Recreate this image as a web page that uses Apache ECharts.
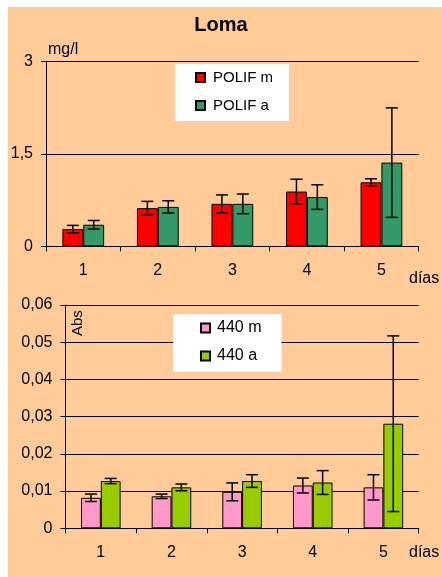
<!DOCTYPE html>
<html>
<head>
<meta charset="utf-8">
<script src="https://cdn.jsdelivr.net/npm/echarts@6/dist/echarts.min.js"></script>
<style>
html,body{margin:0;padding:0;background:#fff;}
#c{width:442px;height:577px;}
</style>
</head>
<body>
<div id="c"></div>
<script>
// ---- data ----
var categories = ['1', '2', '3', '4', '5'];
var polifM = [0.28, 0.62, 0.69, 0.89, 1.04];
var polifMErr = [0.06, 0.11, 0.145, 0.20, 0.057];
var polifA = [0.35, 0.64, 0.69, 0.80, 1.36];
var polifAErr = [0.07, 0.10, 0.16, 0.20, 0.89];
var abs440M = [0.0082, 0.0086, 0.0098, 0.0115, 0.0110];
var abs440MErr = [0.0010, 0.0006, 0.0024, 0.0020, 0.0034];
var abs440A = [0.0127, 0.0110, 0.0127, 0.0123, 0.0281];
var abs440AErr = [0.0007, 0.0009, 0.0017, 0.0032, 0.0236];
var topTicks = {min: 0, max: 3, interval: 1.5};
var bottomTicks = {min: 0, max: 0.06, interval: 0.01};

var FONT = '"Liberation Sans", Arial, sans-serif';
var GAP = 0.44;

function errData(vals, errs) {
  return vals.map(function (v, i) { return [i, v - errs[i], v + errs[i]]; });
}
function errRender(sign) {
  return function (params, api) {
    var x = api.value(0);
    var lo = api.coord([x, api.value(1)]);
    var hi = api.coord([x, api.value(2)]);
    var bw = api.size([1, 0])[0];
    var dx = sign * bw * (1 - GAP) / 4;
    var cx = lo[0] + dx;
    var h = 6;
    var st = {stroke: '#000', lineWidth: 1.5};
    return {
      type: 'group',
      children: [
        {type: 'line', shape: {x1: cx, y1: lo[1], x2: cx, y2: hi[1]}, style: st},
        {type: 'line', shape: {x1: cx - h, y1: lo[1], x2: cx + h, y2: lo[1]}, style: st},
        {type: 'line', shape: {x1: cx - h, y1: hi[1], x2: cx + h, y2: hi[1]}, style: st}
      ]
    };
  };
}
function barSeries(name, data, color, idx) {
  return {
    type: 'bar', name: name, data: data, xAxisIndex: idx, yAxisIndex: idx,
    barGap: '0%', barCategoryGap: (GAP * 100) + '%',
    itemStyle: {color: color, borderColor: '#000', borderWidth: 1},
    emphasis: {disabled: true}, z: 3
  };
}
function errSeries(data, sign, idx) {
  return {
    type: 'custom', data: data, xAxisIndex: idx, yAxisIndex: idx,
    renderItem: errRender(sign), encode: {x: 0, y: [1, 2]}, z: 5, silent: true
  };
}
function xAxisCfg(idx, margin) {
  return {
    type: 'category', gridIndex: idx, data: categories,
    axisLine: {lineStyle: {color: '#000', width: 1}},
    axisTick: {show: true, length: 5, alignWithLabel: false, lineStyle: {color: '#000'}},
    axisLabel: {color: '#000', fontSize: 16, fontFamily: FONT, margin: margin}
  };
}
function yAxisCfg(idx, t, fmt) {
  return {
    type: 'value', gridIndex: idx, min: t.min, max: t.max, interval: t.interval,
    axisLine: {show: true, lineStyle: {color: '#000', width: 1}},
    axisTick: {show: true, length: 5, lineStyle: {color: '#000'}},
    splitLine: {show: true, lineStyle: {color: '#000', width: 1}},
    axisLabel: {color: '#000', fontSize: 16, fontFamily: FONT, margin: 13, formatter: fmt}
  };
}

var chart = echarts.init(document.getElementById('c'), null, {renderer: 'canvas'});
chart.setOption({
  backgroundColor: '#fff',
  animation: false,
  title: {
    text: 'Loma', left: 'center', top: 15, padding: 0,
    textStyle: {fontSize: 20, fontWeight: 'bold', color: '#000', fontFamily: FONT}
  },
  graphic: [
    {type: 'rect', left: 8, top: 7, z: -100, silent: true,
      shape: {width: 434, height: 570}, style: {fill: '#FFCC99'}},
    {type: 'text', left: 48, top: 42, silent: true,
      style: {text: 'mg/l', fontSize: 16, fontFamily: FONT, fill: '#000'}},
    {type: 'text', left: 409, top: 271, silent: true,
      style: {text: 'días', fontSize: 16, fontFamily: FONT, fill: '#000'}},
    {type: 'text', left: 409, top: 545, silent: true,
      style: {text: 'días', fontSize: 16, fontFamily: FONT, fill: '#000'}},
    {type: 'text', x: 70, y: 336, rotation: Math.PI / 2, silent: true,
      style: {text: 'Abs', fontSize: 15, fontFamily: FONT, fill: '#000'}}
  ],
  legend: [
    {
      data: ['POLIF m', 'POLIF a'], orient: 'vertical', left: 175, top: 64,
      backgroundColor: '#fff', padding: [6, 16, 8, 20], itemGap: 13,
      itemWidth: 9, itemHeight: 9, icon: 'rect', selectedMode: false,
      textStyle: {fontSize: 15, color: '#000', fontFamily: FONT, padding: [0, 0, 0, 3]}
    },
    {
      data: ['440 m', '440 a'], orient: 'vertical', left: 173, top: 314,
      backgroundColor: '#fff', padding: [6, 20, 8, 27], itemGap: 12,
      itemWidth: 9, itemHeight: 9, icon: 'rect', selectedMode: false,
      textStyle: {fontSize: 16, color: '#000', fontFamily: FONT, padding: [0, 0, 0, 2]}
    }
  ],
  grid: [
    {left: 46, right: 23.3, top: 61.7, height: 184.6},
    {left: 65.5, right: 23.3, top: 305, height: 223.3}
  ],
  xAxis: [xAxisCfg(0, 16), xAxisCfg(1, 16)],
  yAxis: [
    yAxisCfg(0, topTicks, function (v) { return String(v).replace('.', ','); }),
    yAxisCfg(1, bottomTicks, function (v) { return v === 0 ? '0' : v.toFixed(2).replace('.', ','); })
  ],
  series: [
    barSeries('POLIF m', polifM, '#FF0000', 0),
    barSeries('POLIF a', polifA, '#339966', 0),
    errSeries(errData(polifM, polifMErr), -1, 0),
    errSeries(errData(polifA, polifAErr), 1, 0),
    barSeries('440 m', abs440M, '#FF99CC', 1),
    barSeries('440 a', abs440A, '#99CC00', 1),
    errSeries(errData(abs440M, abs440MErr), -1, 1),
    errSeries(errData(abs440A, abs440AErr), 1, 1)
  ]
});
</script>
</body>
</html>
